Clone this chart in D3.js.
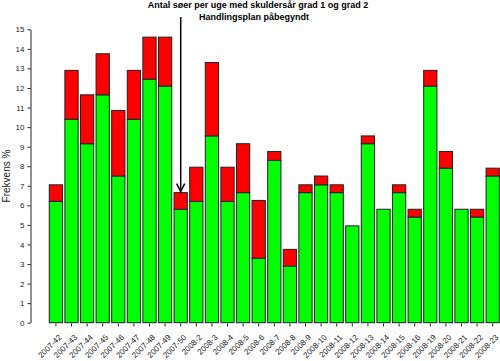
<!DOCTYPE html>
<html>
<head>
<meta charset="utf-8">
<script src="https://cdn.jsdelivr.net/npm/d3@7"></script>
<style>
  body { margin: 0; background: #fff; }
  svg { display: block; font-family: "Liberation Sans", Arial, sans-serif; }
  .axis text { font-size: 8px; fill: #222; }
  .axis path, .axis line { stroke: #222; }
</style>
</head>
<body>
<div class="chart"></div>
<script>
var weeks = ["2007-42", "2007-43", "2007-44", "2007-45", "2007-46", "2007-47", "2007-48", "2007-49", "2007-50",
    "2008-2", "2008-3", "2008-4", "2008-5", "2008-6", "2008-7", "2008-8", "2008-9", "2008-10", "2008-11",
    "2008-12", "2008-13", "2008-14", "2008-15", "2008-16", "2008-19", "2008-20", "2008-21", "2008-22", "2008-23"];

// grad 1 (green) and grad 2 (red, stacked on top)
var grad1 = [6.2, 10.4, 9.15, 11.65, 7.5, 10.4, 12.45, 12.1, 5.8,
    6.2, 9.55, 6.2, 6.65, 3.3, 8.3, 2.9, 6.65, 7.05, 6.65,
    4.95, 9.15, 5.8, 6.65, 5.4, 12.1, 7.9, 5.8, 5.4, 7.5];
var grad2 = [0.85, 2.5, 2.5, 2.1, 3.35, 2.5, 2.15, 2.5, 0.85,
    1.75, 3.75, 1.75, 2.5, 2.95, 0.45, 0.85, 0.4, 0.45, 0.4,
    0, 0.4, 0, 0.4, 0.4, 0.8, 0.85, 0, 0.4, 0.4];

var yTicks = d3.range(0, 16);
var markWeek = "2007-50";

var width = 500,
    height = 361;

var svg = d3.select(".chart").append("svg")
    .attr("width", width)
    .attr("height", height);

var x = d3.scaleBand()
    .domain(weeks)
    .range([48.1, 500.5])
    .paddingInner(0.15)
    .paddingOuter(0.075);

var y = d3.scaleLinear()
    .domain([0, 15])
    .range([322.7, 29.3]);

var rows = weeks.map(function (w, i) {
    return { week: w, g1: grad1[i], g2: grad2[i] };
});

// y axis
svg.append("g")
    .attr("class", "axis")
    .attr("transform", "translate(30.5,0)")
    .call(d3.axisLeft(y).tickValues(yTicks).tickSize(3).tickPadding(3).tickSizeOuter(0));

// x axis: ticks only, no domain line
var xAxis = svg.append("g")
    .attr("class", "axis")
    .attr("transform", "translate(0,323.5)")
    .call(d3.axisBottom(x).tickSize(3).tickSizeOuter(0));
xAxis.select(".domain").remove();
xAxis.selectAll("text")
    .attr("text-anchor", "end")
    .attr("dx", "0")
    .attr("dy", "0")
    .attr("transform", "translate(2,10) rotate(-45)");

// bars
var bar = svg.selectAll(".bar")
    .data(rows)
    .enter().append("g")
    .attr("class", "bar");

bar.append("rect") // green part
    .attr("x", function (d) { return x(d.week); })
    .attr("y", function (d) { return y(d.g1); })
    .attr("width", x.bandwidth())
    .attr("height", function (d) { return y(0) - y(d.g1); })
    .style("fill", "#00ff00")
    .style("stroke", "#222")
    .style("stroke-width", 1);

bar.filter(function (d) { return d.g2 > 0; })
    .append("rect") // red part
    .attr("x", function (d) { return x(d.week); })
    .attr("y", function (d) { return y(d.g1 + d.g2); })
    .attr("width", x.bandwidth())
    .attr("height", function (d) { return y(d.g1) - y(d.g1 + d.g2); })
    .style("fill", "#ff0000")
    .style("stroke", "#222")
    .style("stroke-width", 1);

// y label
svg.append("text")
    .attr("transform", "translate(10," + y(7.5) + ") rotate(-90)")
    .attr("text-anchor", "middle")
    .style("font-size", "10px")
    .style("fill", "#222")
    .text("Frekvens %");

// title
svg.append("text")
    .attr("x", 258)
    .attr("y", 8)
    .attr("text-anchor", "middle")
    .style("font-size", "9px")
    .style("font-weight", "bold")
    .text("Antal søer per uge med skuldersår grad 1 og grad 2");

svg.append("text")
    .attr("x", 254)
    .attr("y", 20)
    .attr("text-anchor", "middle")
    .style("font-size", "9px")
    .style("font-weight", "bold")
    .text("Handlingsplan påbegyndt");

// arrow pointing at the start week
var mi = weeks.indexOf(markWeek);
var ax = x(markWeek) + x.bandwidth() / 2,
    tip = y(grad1[mi] + grad2[mi]) - 1;
svg.append("line")
    .attr("x1", ax).attr("x2", ax)
    .attr("y1", 17).attr("y2", tip - 2)
    .style("stroke", "#000")
    .style("stroke-width", 1.5);
svg.append("path")
    .attr("d", "M" + (ax - 4) + "," + (tip - 8) + "L" + ax + "," + tip + "L" + (ax + 4) + "," + (tip - 8))
    .style("fill", "none")
    .style("stroke", "#000")
    .style("stroke-width", 1.5);
</script>
</body>
</html>
